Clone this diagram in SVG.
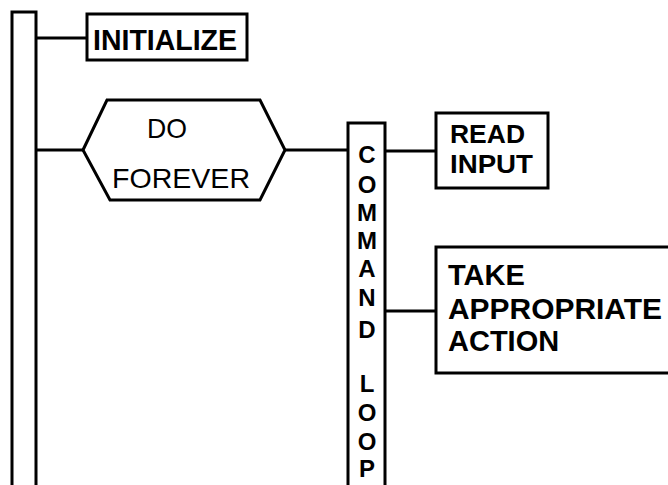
<svg xmlns="http://www.w3.org/2000/svg" width="668" height="485" viewBox="0 0 668 485">
  <style>
    .ln { fill: none; stroke: #000; stroke-width: 3; stroke-linejoin: miter; }
    .box { fill: #fff; stroke: #000; stroke-width: 3; }
    .t { font-family: "Liberation Sans", Arial, sans-serif; fill: #000; }
    .b { font-weight: bold; }
    .col { font-family: "Liberation Sans", Arial, sans-serif; font-weight: bold; font-size: 24px; text-anchor: middle; fill: #000; }
  </style>
  <rect width="668" height="485" fill="#fff"/>

  <!-- connectors -->
  <g id="connectors" class="ln">
    <path d="M36 38 H87"/>
    <path d="M36 150 H83"/>
    <path d="M285 150 H348"/>
    <path d="M385 151 H436"/>
    <path d="M385 311 H436"/>
  </g>

  <!-- main sequence bar -->
  <g id="main-bar">
    <path class="ln" d="M12 487 V12 H36 V487"/>
  </g>

  <g id="initialize">
    <rect class="box" x="87" y="14" width="160" height="46"/>
    <text class="t b" x="93" y="50" font-size="29" textLength="144" lengthAdjust="spacingAndGlyphs">INITIALIZE</text>
  </g>

  <g id="do-forever">
    <polygon class="box" points="83,150 107,100 260,100 285,150 260,200 110,200"/>
    <text class="t" x="147" y="138" font-size="28" textLength="40" lengthAdjust="spacingAndGlyphs">DO</text>
    <text class="t" x="112" y="188" font-size="28" textLength="138" lengthAdjust="spacingAndGlyphs">FOREVER</text>
  </g>

  <g id="command-loop">
    <path class="ln" d="M348 487 V123 H385 V487"/>
    <text class="col" x="367" y="163">C</text>
    <text class="col" x="367" y="193">O</text>
    <text class="col" x="367" y="221">M</text>
    <text class="col" x="367" y="249">M</text>
    <text class="col" x="367" y="277">A</text>
    <text class="col" x="367" y="306">N</text>
    <text class="col" x="367" y="338">D</text>
    <text class="col" x="367" y="392">L</text>
    <text class="col" x="367" y="421">O</text>
    <text class="col" x="367" y="450">O</text>
    <text class="col" x="367" y="477">P</text>
  </g>

  <g id="read-input">
    <rect class="box" x="436" y="113" width="112" height="75"/>
    <text class="t b" x="450" y="143" font-size="25" textLength="75" lengthAdjust="spacingAndGlyphs">READ</text>
    <text class="t b" x="450" y="173" font-size="25" textLength="83" lengthAdjust="spacingAndGlyphs">INPUT</text>
  </g>

  <g id="take-action">
    <rect class="box" x="436" y="247" width="240" height="126"/>
    <text class="t b" x="448" y="285" font-size="29">TAKE</text>
    <text class="t b" x="448" y="319" font-size="29" textLength="214" lengthAdjust="spacingAndGlyphs">APPROPRIATE</text>
    <text class="t b" x="448" y="351" font-size="29">ACTION</text>
  </g>
</svg>
